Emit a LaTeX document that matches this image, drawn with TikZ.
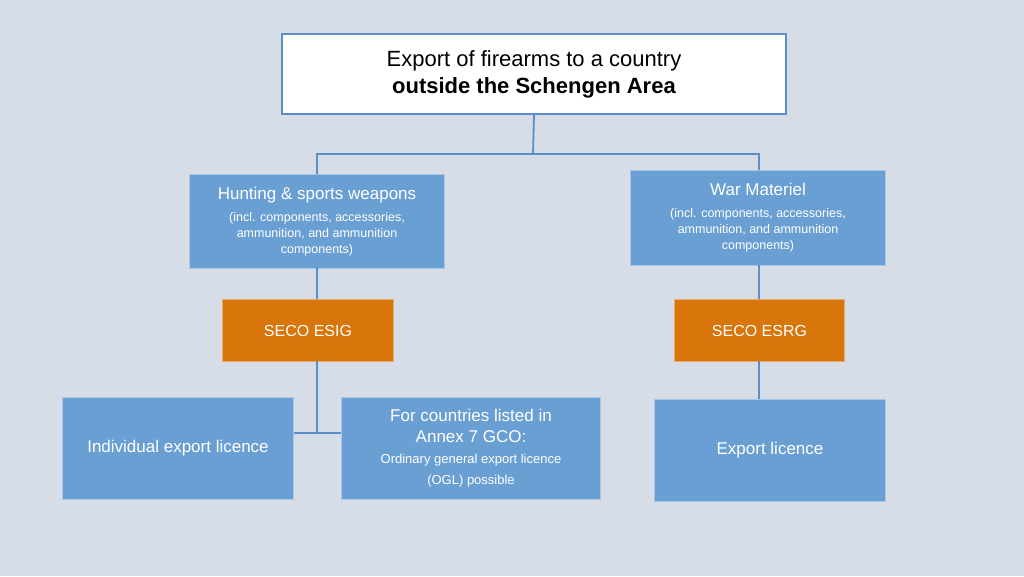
\documentclass[tikz,border=0pt]{standalone}
\usepackage{fontspec}
\setmainfont{Liberation Sans}
\definecolor{bg}{HTML}{D6DDE6}
\definecolor{bl}{HTML}{6A9FD4}
\definecolor{blb}{HTML}{A8C6E6}
\definecolor{ln}{HTML}{5B8FC9}
\definecolor{org}{HTML}{D9760B}
\newcommand{\bgtxt}[1]{{\fontsize{17}{22}\selectfont #1}}
\begin{document}
\begin{tikzpicture}[x=1pt,y=-1pt,
 box/.style={draw=blb,line width=1pt,fill=bl,text=white,align=center,inner sep=0pt,anchor=north west},
 sm/.style={font=\fontsize{12.5}{16}\selectfont},
 obox/.style={draw=org!60!white,line width=1pt,fill=org,text=white,align=center,inner sep=0pt,anchor=north west,font=\fontsize{16}{20}\selectfont},
 con/.style={draw=ln,line width=1.8pt}]
\fill[bg] (0,0) rectangle (1024,576);
\useasboundingbox (0,0) rectangle (1024,576);
\node[anchor=north west,draw=ln,line width=2pt,fill=white,minimum width=504pt,minimum height=80pt,inner sep=0pt,align=center,font=\fontsize{22}{27}\selectfont] (t) at (281,33) {Export of firearms to a country\\\textbf{outside the Schengen Area}};
\node[box,sm,minimum width=255pt,minimum height=94pt] (h) at (189,174) {\bgtxt{Hunting \& sports weapons}\\[6pt](incl. components, accessories,\\ammunition, and ammunition\\components)};
\node[box,sm,minimum width=255pt,minimum height=95pt] (w) at (630,170) {\bgtxt{War Materiel}\\[6pt](incl. components, accessories,\\ammunition, and ammunition\\components)};
\node[obox,minimum width=171pt,minimum height=62pt] (e1) at (222,299) {SECO ESIG};
\node[obox,minimum width=170pt,minimum height=62pt] (e2) at (674,299) {SECO ESRG};
\node[box,minimum width=231pt,minimum height=102pt,font=\fontsize{17}{20}\selectfont] (i) at (62,397) {Individual export licence};
\node[box,minimum width=259pt,minimum height=102pt,font=\fontsize{13}{21}\selectfont] (f) at (341,397) {\bgtxt{For countries listed in}\\\bgtxt{Annex 7 GCO:}\\Ordinary general export licence\\(OGL) possible};
\node[box,minimum width=231pt,minimum height=102pt,font=\fontsize{17}{20}\selectfont] (x) at (654,399) {Export licence};
\coordinate (j) at (533,154);
\coordinate (m) at (317,433);
\draw[con] (t.south) -- (j) -- (317,154) -- (317,174);
\draw[con] (j) -- (759,154) -- (759,170);
\draw[con] (317,268) -- (317,299);
\draw[con] (759,265) -- (759,299);
\draw[con] (317,361) -- (m);
\draw[con] (i.east |- m) -- (f.west |- m);
\draw[con] (759,361) -- (759,399);
\end{tikzpicture}
\end{document}
